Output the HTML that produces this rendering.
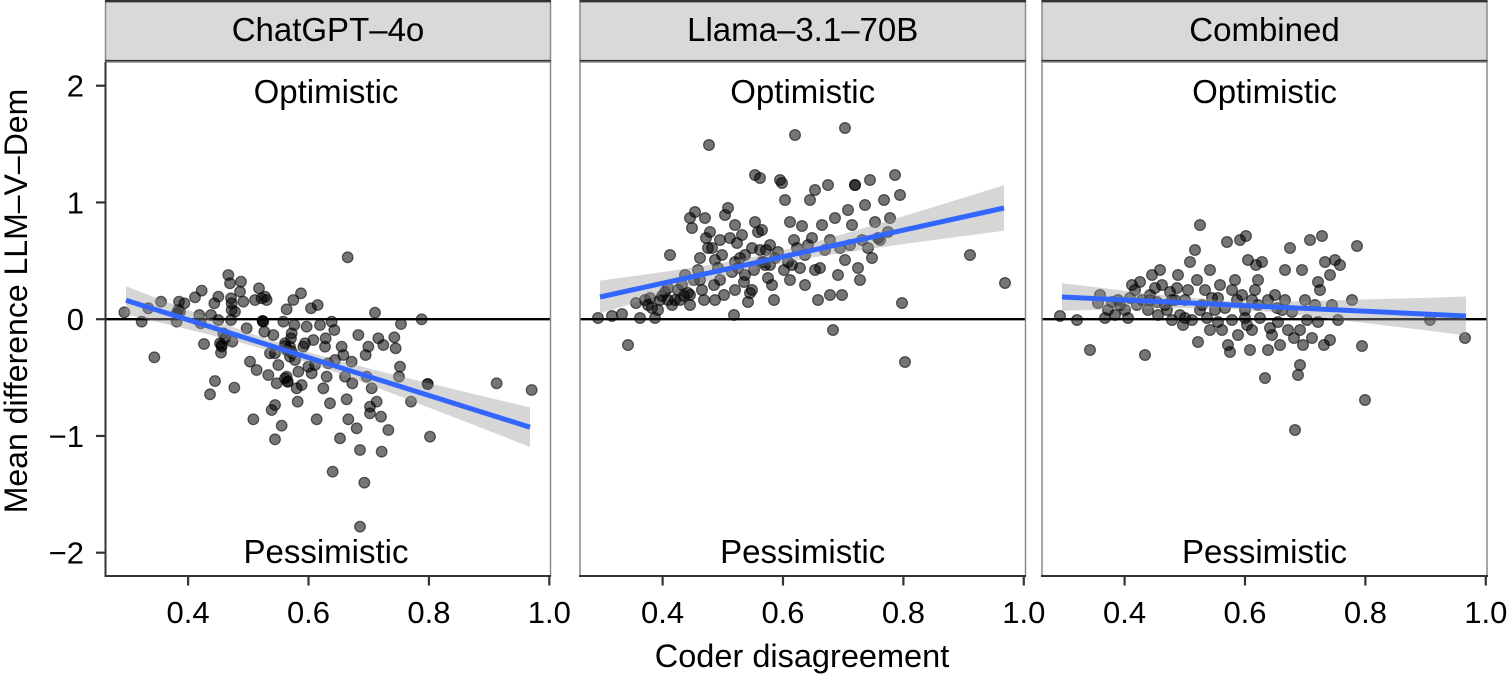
<!DOCTYPE html>
<html>
<head>
<meta charset="utf-8">
<style>
  html, body { margin: 0; padding: 0; background: #ffffff; }
  svg { display: block; }
  text { font-family: "Liberation Sans", Arial, sans-serif; fill: #000; }
  .pt { fill: #000; fill-opacity: 0.54; stroke: #000; stroke-opacity: 0.58; stroke-width: 1.2; }
  .pt3 { fill: #000; fill-opacity: 0.54; stroke: #000; stroke-opacity: 0.58; stroke-width: 3.6; }
  .rib { fill: #999999; fill-opacity: 0.4; stroke: none; }
  .fit { stroke: #3366FF; stroke-width: 5; fill: none; stroke-linecap: butt; }
  .zero { stroke: #000; stroke-width: 2.4; }
  .tick { stroke: #333; stroke-width: 2.2; }
</style>
</head>
<body>
<svg width="1508" height="675" viewBox="0 0 1508 675" xmlns="http://www.w3.org/2000/svg">
  <rect x="0" y="0" width="1508" height="675" fill="#fff"/>

  <!-- ===== Strips ===== -->
  <g>
    <rect x="105.5" y="1.2" width="445" height="60.5" fill="#D9D9D9" stroke="#8a8a8a" stroke-width="1.5"/>
    <rect x="580" y="1.2" width="445.5" height="60.5" fill="#D9D9D9" stroke="#8a8a8a" stroke-width="1.5"/>
    <rect x="1042" y="1.2" width="445" height="60.5" fill="#D9D9D9" stroke="#8a8a8a" stroke-width="1.5"/>
    <line x1="105" y1="1.2" x2="551" y2="1.2" stroke="#333" stroke-width="2.4"/>
    <line x1="579.5" y1="1.2" x2="1026" y2="1.2" stroke="#333" stroke-width="2.4"/>
    <line x1="1041.5" y1="1.2" x2="1487.5" y2="1.2" stroke="#333" stroke-width="2.4"/>
    <line x1="105" y1="61" x2="551" y2="61" stroke="#333" stroke-width="2.2"/>
    <line x1="579.5" y1="61" x2="1026" y2="61" stroke="#333" stroke-width="2.2"/>
    <line x1="1041.5" y1="61" x2="1487.5" y2="61" stroke="#333" stroke-width="2.2"/>
    <text x="328" y="41" font-size="33" text-anchor="middle">ChatGPT–4o</text>
    <text x="802.7" y="41" font-size="33" text-anchor="middle">Llama–3.1–70B</text>
    <text x="1264.5" y="41" font-size="33" text-anchor="middle">Combined</text>
  </g>

  <!-- ===== Panel 1 ===== -->
  <g>
    <line class="zero" x1="105.5" y1="319.2" x2="550.5" y2="319.2"/>
    <g transform="translate(105,250) scale(0.33333)">
      <circle class="pt3" r="16" cx="58" cy="187"/><circle class="pt3" r="16" cx="110" cy="215"/><circle class="pt3" r="16" cx="130" cy="175"/><circle class="pt3" r="16" cx="148" cy="322"/><circle class="pt3" r="16" cx="168" cy="155"/><circle class="pt3" r="16" cx="215" cy="215"/><circle class="pt3" r="16" cx="222" cy="155"/><circle class="pt3" r="16" cx="225" cy="185"/><circle class="pt3" r="16" cx="238" cy="160"/><circle class="pt3" r="16" cx="270" cy="142"/><circle class="pt3" r="16" cx="283" cy="195"/><circle class="pt3" r="16" cx="290" cy="122"/><circle class="pt3" r="16" cx="287" cy="220"/><circle class="pt3" r="16" cx="297" cy="282"/><circle class="pt3" r="16" cx="318" cy="195"/><circle class="pt3" r="16" cx="315" cy="433"/><circle class="pt3" r="16" cx="330" cy="393"/><circle class="pt3" r="16" cx="328" cy="160"/><circle class="pt3" r="16" cx="340" cy="140"/><circle class="pt3" r="16" cx="340" cy="210"/><circle class="pt3" r="16" cx="345" cy="280"/><circle class="pt3" r="16" cx="350" cy="290"/><circle class="pt3" r="16" cx="348" cy="308"/><circle class="pt3" r="16" cx="355" cy="250"/><circle class="pt3" r="16" cx="360" cy="265"/><circle class="pt3" r="16" cx="370" cy="75"/><circle class="pt3" r="16" cx="375" cy="100"/><circle class="pt3" r="16" cx="378" cy="145"/><circle class="pt3" r="16" cx="378" cy="210"/><circle class="pt3" r="16" cx="380" cy="180"/><circle class="pt3" r="16" cx="382" cy="275"/><circle class="pt3" r="16" cx="388" cy="413"/><circle class="pt3" r="16" cx="390" cy="185"/><circle class="pt3" r="16" cx="405" cy="125"/><circle class="pt3" r="16" cx="408" cy="95"/><circle class="pt3" r="16" cx="415" cy="155"/><circle class="pt3" r="16" cx="425" cy="235"/><circle class="pt3" r="16" cx="435" cy="335"/><circle class="pt3" r="16" cx="445" cy="508"/><circle class="pt3" r="16" cx="450" cy="150"/><circle class="pt3" r="16" cx="455" cy="360"/><circle class="pt3" r="16" cx="462" cy="115"/><circle class="pt3" r="16" cx="470" cy="145"/><circle class="pt3" r="16" cx="475" cy="215"/><circle class="pt3" r="16" cx="478" cy="245"/><circle class="pt3" r="16" cx="480" cy="140"/><circle class="pt3" r="16" cx="485" cy="150"/><circle class="pt3" r="16" cx="490" cy="375"/><circle class="pt3" r="16" cx="495" cy="310"/><circle class="pt3" r="16" cx="500" cy="480"/><circle class="pt3" r="16" cx="505" cy="255"/><circle class="pt3" r="16" cx="510" cy="310"/><circle class="pt3" r="16" cx="510" cy="568"/><circle class="pt3" r="16" cx="510" cy="465"/><circle class="pt3" r="16" cx="515" cy="400"/><circle class="pt3" r="16" cx="520" cy="345"/><circle class="pt3" r="16" cx="530" cy="527"/><circle class="pt3" r="16" cx="535" cy="215"/><circle class="pt3" r="16" cx="540" cy="280"/><circle class="pt3" r="16" cx="545" cy="178"/><circle class="pt3" r="16" cx="545" cy="380"/><circle class="pt3" r="16" cx="548" cy="395"/><circle class="pt3" r="16" cx="550" cy="300"/><circle class="pt3" r="16" cx="555" cy="290"/><circle class="pt3" r="16" cx="558" cy="265"/><circle class="pt3" r="16" cx="560" cy="250"/><circle class="pt3" r="16" cx="562" cy="310"/><circle class="pt3" r="16" cx="565" cy="150"/><circle class="pt3" r="16" cx="568" cy="225"/><circle class="pt3" r="16" cx="570" cy="330"/><circle class="pt3" r="16" cx="575" cy="415"/><circle class="pt3" r="16" cx="578" cy="455"/><circle class="pt3" r="16" cx="580" cy="365"/><circle class="pt3" r="16" cx="588" cy="130"/><circle class="pt3" r="16" cx="590" cy="405"/><circle class="pt3" r="16" cx="595" cy="290"/><circle class="pt3" r="16" cx="600" cy="280"/><circle class="pt3" r="16" cx="605" cy="230"/><circle class="pt3" r="16" cx="610" cy="350"/><circle class="pt3" r="16" cx="618" cy="175"/><circle class="pt3" r="16" cx="620" cy="370"/><circle class="pt3" r="16" cx="625" cy="270"/><circle class="pt3" r="16" cx="630" cy="345"/><circle class="pt3" r="16" cx="635" cy="508"/><circle class="pt3" r="16" cx="638" cy="165"/><circle class="pt3" r="16" cx="645" cy="225"/><circle class="pt3" r="16" cx="655" cy="415"/><circle class="pt3" r="16" cx="660" cy="290"/><circle class="pt3" r="16" cx="662" cy="265"/><circle class="pt3" r="16" cx="665" cy="380"/><circle class="pt3" r="16" cx="670" cy="340"/><circle class="pt3" r="16" cx="675" cy="460"/><circle class="pt3" r="16" cx="680" cy="215"/><circle class="pt3" r="16" cx="683" cy="665"/><circle class="pt3" r="16" cx="688" cy="240"/><circle class="pt3" r="16" cx="690" cy="330"/><circle class="pt3" r="16" cx="705" cy="565"/><circle class="pt3" r="16" cx="710" cy="290"/><circle class="pt3" r="16" cx="715" cy="315"/><circle class="pt3" r="16" cx="720" cy="380"/><circle class="pt3" r="16" cx="725" cy="448"/><circle class="pt3" r="16" cx="728" cy="22"/><circle class="pt3" r="16" cx="730" cy="508"/><circle class="pt3" r="16" cx="740" cy="335"/><circle class="pt3" r="16" cx="742" cy="400"/><circle class="pt3" r="16" cx="755" cy="535"/><circle class="pt3" r="16" cx="760" cy="255"/><circle class="pt3" r="16" cx="765" cy="600"/><circle class="pt3" r="16" cx="778" cy="698"/><circle class="pt3" r="16" cx="782" cy="315"/><circle class="pt3" r="16" cx="785" cy="380"/><circle class="pt3" r="16" cx="790" cy="290"/><circle class="pt3" r="16" cx="795" cy="470"/><circle class="pt3" r="16" cx="795" cy="490"/><circle class="pt3" r="16" cx="800" cy="415"/><circle class="pt3" r="16" cx="810" cy="188"/><circle class="pt3" r="16" cx="815" cy="455"/><circle class="pt3" r="16" cx="820" cy="265"/><circle class="pt3" r="16" cx="828" cy="500"/><circle class="pt3" r="16" cx="830" cy="605"/><circle class="pt3" r="16" cx="835" cy="285"/><circle class="pt3" r="16" cx="850" cy="540"/><circle class="pt3" r="16" cx="868" cy="262"/><circle class="pt3" r="16" cx="872" cy="295"/><circle class="pt3" r="16" cx="882" cy="380"/><circle class="pt3" r="16" cx="885" cy="350"/><circle class="pt3" r="16" cx="888" cy="222"/><circle class="pt3" r="16" cx="918" cy="455"/><circle class="pt3" r="16" cx="950" cy="208"/><circle class="pt3" r="16" cx="968" cy="402"/><circle class="pt3" r="16" cx="968" cy="402"/><circle class="pt3" r="16" cx="975" cy="560"/><circle class="pt3" r="16" cx="1175" cy="400"/><circle class="pt3" r="16" cx="1280" cy="420"/><circle class="pt3" r="16" cx="765" cy="830"/><circle class="pt3" r="16" cx="473" cy="213"/><circle class="pt3" r="16" cx="473" cy="213"/><circle class="pt3" r="16" cx="540" cy="288"/><circle class="pt3" r="16" cx="545" cy="300"/><circle class="pt3" r="16" cx="555" cy="320"/><circle class="pt3" r="16" cx="560" cy="305"/><circle class="pt3" r="16" cx="548" cy="395"/><circle class="pt3" r="16" cx="540" cy="385"/><circle class="pt3" r="16" cx="350" cy="285"/><circle class="pt3" r="16" cx="215" cy="190"/><circle class="pt3" r="16" cx="220" cy="180"/><circle class="pt3" r="16" cx="380" cy="160"/>
    </g>
    <polygon class="rib" points="126,286.2 170,303.2 210,318.5 250,333.2 291,347.1 330,358.4 370,368.8 410,378.7 450,388.3 490,397.9 530,407.4 530,447.0 490,431.3 450,415.7 410,400.2 370,385.0 330,370.2 291,357.1 250,345.2 210,334.9 170,325.0 126,314.4"/>
    <line class="fit" x1="126" y1="300.3" x2="530" y2="427.2"/>
  </g>

  <!-- ===== Panel 2 ===== -->
  <g>
    <line class="zero" x1="580" y1="319.2" x2="1025.5" y2="319.2"/>
    <g>
      <circle class="pt" r="5.4" cx="598" cy="318"/><circle class="pt" r="5.4" cx="612" cy="316"/><circle class="pt" r="5.4" cx="622" cy="314"/><circle class="pt" r="5.4" cx="628" cy="345"/><circle class="pt" r="5.4" cx="636" cy="303"/><circle class="pt" r="5.4" cx="645" cy="300"/><circle class="pt" r="5.4" cx="648" cy="305"/><circle class="pt" r="5.4" cx="650" cy="298"/><circle class="pt" r="5.4" cx="652" cy="308"/><circle class="pt" r="5.4" cx="655" cy="318"/><circle class="pt" r="5.4" cx="658" cy="310"/><circle class="pt" r="5.4" cx="660" cy="300"/><circle class="pt" r="5.4" cx="662" cy="296"/><circle class="pt" r="5.4" cx="665" cy="292"/><circle class="pt" r="5.4" cx="668" cy="288"/><circle class="pt" r="5.4" cx="670" cy="255"/><circle class="pt" r="5.4" cx="672" cy="305"/><circle class="pt" r="5.4" cx="675" cy="300"/><circle class="pt" r="5.4" cx="678" cy="290"/><circle class="pt" r="5.4" cx="680" cy="300"/><circle class="pt" r="5.4" cx="682" cy="285"/><circle class="pt" r="5.4" cx="684" cy="296"/><circle class="pt" r="5.4" cx="685" cy="275"/><circle class="pt" r="5.4" cx="688" cy="293"/><circle class="pt" r="5.4" cx="690" cy="218"/><circle class="pt" r="5.4" cx="692" cy="228"/><circle class="pt" r="5.4" cx="694" cy="280"/><circle class="pt" r="5.4" cx="695" cy="212"/><circle class="pt" r="5.4" cx="698" cy="270"/><circle class="pt" r="5.4" cx="700" cy="258"/><circle class="pt" r="5.4" cx="702" cy="290"/><circle class="pt" r="5.4" cx="704" cy="300"/><circle class="pt" r="5.4" cx="705" cy="218"/><circle class="pt" r="5.4" cx="706" cy="238"/><circle class="pt" r="5.4" cx="708" cy="248"/><circle class="pt" r="5.4" cx="709" cy="145"/><circle class="pt" r="5.4" cx="710" cy="232"/><circle class="pt" r="5.4" cx="712" cy="248"/><circle class="pt" r="5.4" cx="714" cy="285"/><circle class="pt" r="5.4" cx="715" cy="260"/><circle class="pt" r="5.4" cx="718" cy="268"/><circle class="pt" r="5.4" cx="720" cy="280"/><circle class="pt" r="5.4" cx="722" cy="255"/><circle class="pt" r="5.4" cx="724" cy="295"/><circle class="pt" r="5.4" cx="725" cy="215"/><circle class="pt" r="5.4" cx="728" cy="208"/><circle class="pt" r="5.4" cx="730" cy="238"/><circle class="pt" r="5.4" cx="732" cy="272"/><circle class="pt" r="5.4" cx="734" cy="315"/><circle class="pt" r="5.4" cx="735" cy="290"/><circle class="pt" r="5.4" cx="737" cy="243"/><circle class="pt" r="5.4" cx="738" cy="268"/><circle class="pt" r="5.4" cx="740" cy="258"/><circle class="pt" r="5.4" cx="742" cy="235"/><circle class="pt" r="5.4" cx="744" cy="282"/><circle class="pt" r="5.4" cx="745" cy="255"/><circle class="pt" r="5.4" cx="748" cy="302"/><circle class="pt" r="5.4" cx="750" cy="293"/><circle class="pt" r="5.4" cx="752" cy="248"/><circle class="pt" r="5.4" cx="754" cy="270"/><circle class="pt" r="5.4" cx="755" cy="222"/><circle class="pt" r="5.4" cx="755" cy="175"/><circle class="pt" r="5.4" cx="758" cy="232"/><circle class="pt" r="5.4" cx="760" cy="178"/><circle class="pt" r="5.4" cx="762" cy="230"/><circle class="pt" r="5.4" cx="764" cy="262"/><circle class="pt" r="5.4" cx="765" cy="265"/><circle class="pt" r="5.4" cx="766" cy="250"/><circle class="pt" r="5.4" cx="768" cy="278"/><circle class="pt" r="5.4" cx="770" cy="245"/><circle class="pt" r="5.4" cx="772" cy="285"/><circle class="pt" r="5.4" cx="774" cy="300"/><circle class="pt" r="5.4" cx="775" cy="258"/><circle class="pt" r="5.4" cx="778" cy="252"/><circle class="pt" r="5.4" cx="780" cy="180"/><circle class="pt" r="5.4" cx="782" cy="183"/><circle class="pt" r="5.4" cx="784" cy="270"/><circle class="pt" r="5.4" cx="785" cy="200"/><circle class="pt" r="5.4" cx="788" cy="262"/><circle class="pt" r="5.4" cx="790" cy="222"/><circle class="pt" r="5.4" cx="792" cy="265"/><circle class="pt" r="5.4" cx="794" cy="240"/><circle class="pt" r="5.4" cx="795" cy="135"/><circle class="pt" r="5.4" cx="797" cy="248"/><circle class="pt" r="5.4" cx="800" cy="268"/><circle class="pt" r="5.4" cx="802" cy="226"/><circle class="pt" r="5.4" cx="805" cy="285"/><circle class="pt" r="5.4" cx="808" cy="245"/><circle class="pt" r="5.4" cx="810" cy="200"/><circle class="pt" r="5.4" cx="812" cy="238"/><circle class="pt" r="5.4" cx="815" cy="190"/><circle class="pt" r="5.4" cx="818" cy="300"/><circle class="pt" r="5.4" cx="820" cy="268"/><circle class="pt" r="5.4" cx="822" cy="225"/><circle class="pt" r="5.4" cx="825" cy="250"/><circle class="pt" r="5.4" cx="828" cy="185"/><circle class="pt" r="5.4" cx="830" cy="295"/><circle class="pt" r="5.4" cx="833" cy="330"/><circle class="pt" r="5.4" cx="835" cy="218"/><circle class="pt" r="5.4" cx="838" cy="275"/><circle class="pt" r="5.4" cx="840" cy="248"/><circle class="pt" r="5.4" cx="842" cy="295"/><circle class="pt" r="5.4" cx="845" cy="128"/><circle class="pt" r="5.4" cx="848" cy="210"/><circle class="pt" r="5.4" cx="850" cy="245"/><circle class="pt" r="5.4" cx="852" cy="225"/><circle class="pt" r="5.4" cx="855" cy="185"/><circle class="pt" r="5.4" cx="855" cy="185"/><circle class="pt" r="5.4" cx="858" cy="268"/><circle class="pt" r="5.4" cx="860" cy="280"/><circle class="pt" r="5.4" cx="862" cy="240"/><circle class="pt" r="5.4" cx="865" cy="205"/><circle class="pt" r="5.4" cx="868" cy="248"/><circle class="pt" r="5.4" cx="870" cy="180"/><circle class="pt" r="5.4" cx="872" cy="258"/><circle class="pt" r="5.4" cx="875" cy="222"/><circle class="pt" r="5.4" cx="878" cy="238"/><circle class="pt" r="5.4" cx="880" cy="240"/><circle class="pt" r="5.4" cx="884" cy="200"/><circle class="pt" r="5.4" cx="888" cy="232"/><circle class="pt" r="5.4" cx="890" cy="218"/><circle class="pt" r="5.4" cx="895" cy="175"/><circle class="pt" r="5.4" cx="900" cy="195"/><circle class="pt" r="5.4" cx="902" cy="303"/><circle class="pt" r="5.4" cx="905" cy="362"/><circle class="pt" r="5.4" cx="970" cy="255"/><circle class="pt" r="5.4" cx="1005" cy="283"/><circle class="pt" r="5.4" cx="762" cy="262"/><circle class="pt" r="5.4" cx="735" cy="262"/><circle class="pt" r="5.4" cx="690" cy="295"/>
      <circle class="pt" r="5.4" cx="640" cy="318"/><circle class="pt" r="5.4" cx="668" cy="300"/><circle class="pt" r="5.4" cx="690" cy="305"/><circle class="pt" r="5.4" cx="700" cy="280"/><circle class="pt" r="5.4" cx="715" cy="300"/><circle class="pt" r="5.4" cx="720" cy="240"/><circle class="pt" r="5.4" cx="735" cy="225"/><circle class="pt" r="5.4" cx="745" cy="275"/><circle class="pt" r="5.4" cx="752" cy="290"/><circle class="pt" r="5.4" cx="760" cy="250"/><circle class="pt" r="5.4" cx="770" cy="265"/><circle class="pt" r="5.4" cx="790" cy="280"/><circle class="pt" r="5.4" cx="805" cy="255"/><circle class="pt" r="5.4" cx="815" cy="270"/><circle class="pt" r="5.4" cx="830" cy="240"/><circle class="pt" r="5.4" cx="845" cy="260"/>
    </g>
    <polygon class="rib" points="600,280.6 640,275.2 680,269.5 720,263.3 766,254.4 810,243.5 850,232.1 890,220.2 930,208.1 970,195.8 1004,185.3 1004,230.7 970,235.2 930,240.5 890,246.0 850,251.7 810,257.9 766,266.4 720,277.9 680,289.3 640,301.3 600,313.4"/>
    <line class="fit" x1="600" y1="297" x2="1004" y2="208"/>
  </g>

  <!-- ===== Panel 3 ===== -->
  <g>
    <line class="zero" x1="1042" y1="319.2" x2="1487" y2="319.2"/>
    <g>
      <circle class="pt" r="5.4" cx="1060" cy="316"/><circle class="pt" r="5.4" cx="1077" cy="320"/><circle class="pt" r="5.4" cx="1090" cy="350"/><circle class="pt" r="5.4" cx="1098" cy="303"/><circle class="pt" r="5.4" cx="1108" cy="310"/><circle class="pt" r="5.4" cx="1112" cy="302"/><circle class="pt" r="5.4" cx="1115" cy="315"/><circle class="pt" r="5.4" cx="1118" cy="300"/><circle class="pt" r="5.4" cx="1120" cy="305"/><circle class="pt" r="5.4" cx="1125" cy="310"/><circle class="pt" r="5.4" cx="1130" cy="298"/><circle class="pt" r="5.4" cx="1135" cy="290"/><circle class="pt" r="5.4" cx="1137" cy="305"/><circle class="pt" r="5.4" cx="1140" cy="282"/><circle class="pt" r="5.4" cx="1142" cy="300"/><circle class="pt" r="5.4" cx="1145" cy="355"/><circle class="pt" r="5.4" cx="1148" cy="310"/><circle class="pt" r="5.4" cx="1150" cy="295"/><circle class="pt" r="5.4" cx="1152" cy="275"/><circle class="pt" r="5.4" cx="1155" cy="288"/><circle class="pt" r="5.4" cx="1157" cy="302"/><circle class="pt" r="5.4" cx="1160" cy="270"/><circle class="pt" r="5.4" cx="1162" cy="285"/><circle class="pt" r="5.4" cx="1165" cy="305"/><circle class="pt" r="5.4" cx="1167" cy="310"/><circle class="pt" r="5.4" cx="1170" cy="292"/><circle class="pt" r="5.4" cx="1172" cy="320"/><circle class="pt" r="5.4" cx="1175" cy="300"/><circle class="pt" r="5.4" cx="1177" cy="288"/><circle class="pt" r="5.4" cx="1180" cy="315"/><circle class="pt" r="5.4" cx="1183" cy="325"/><circle class="pt" r="5.4" cx="1185" cy="300"/><circle class="pt" r="5.4" cx="1188" cy="290"/><circle class="pt" r="5.4" cx="1190" cy="262"/><circle class="pt" r="5.4" cx="1192" cy="320"/><circle class="pt" r="5.4" cx="1195" cy="250"/><circle class="pt" r="5.4" cx="1197" cy="280"/><circle class="pt" r="5.4" cx="1198" cy="342"/><circle class="pt" r="5.4" cx="1200" cy="225"/><circle class="pt" r="5.4" cx="1202" cy="305"/><circle class="pt" r="5.4" cx="1205" cy="290"/><circle class="pt" r="5.4" cx="1207" cy="318"/><circle class="pt" r="5.4" cx="1210" cy="270"/><circle class="pt" r="5.4" cx="1212" cy="298"/><circle class="pt" r="5.4" cx="1215" cy="310"/><circle class="pt" r="5.4" cx="1218" cy="322"/><circle class="pt" r="5.4" cx="1220" cy="285"/><circle class="pt" r="5.4" cx="1222" cy="330"/><circle class="pt" r="5.4" cx="1225" cy="308"/><circle class="pt" r="5.4" cx="1227" cy="242"/><circle class="pt" r="5.4" cx="1228" cy="345"/><circle class="pt" r="5.4" cx="1230" cy="352"/><circle class="pt" r="5.4" cx="1232" cy="320"/><circle class="pt" r="5.4" cx="1235" cy="280"/><circle class="pt" r="5.4" cx="1237" cy="300"/><circle class="pt" r="5.4" cx="1240" cy="240"/><circle class="pt" r="5.4" cx="1242" cy="295"/><circle class="pt" r="5.4" cx="1245" cy="318"/><circle class="pt" r="5.4" cx="1246" cy="236"/><circle class="pt" r="5.4" cx="1247" cy="325"/><circle class="pt" r="5.4" cx="1248" cy="260"/><circle class="pt" r="5.4" cx="1250" cy="350"/><circle class="pt" r="5.4" cx="1252" cy="300"/><circle class="pt" r="5.4" cx="1255" cy="290"/><circle class="pt" r="5.4" cx="1256" cy="265"/><circle class="pt" r="5.4" cx="1258" cy="305"/><circle class="pt" r="5.4" cx="1260" cy="318"/><circle class="pt" r="5.4" cx="1262" cy="262"/><circle class="pt" r="5.4" cx="1265" cy="378"/><circle class="pt" r="5.4" cx="1268" cy="350"/><circle class="pt" r="5.4" cx="1270" cy="328"/><circle class="pt" r="5.4" cx="1272" cy="335"/><circle class="pt" r="5.4" cx="1275" cy="295"/><circle class="pt" r="5.4" cx="1277" cy="308"/><circle class="pt" r="5.4" cx="1280" cy="345"/><circle class="pt" r="5.4" cx="1282" cy="310"/><circle class="pt" r="5.4" cx="1285" cy="270"/><circle class="pt" r="5.4" cx="1288" cy="330"/><circle class="pt" r="5.4" cx="1290" cy="248"/><circle class="pt" r="5.4" cx="1292" cy="312"/><circle class="pt" r="5.4" cx="1294" cy="338"/><circle class="pt" r="5.4" cx="1295" cy="430"/><circle class="pt" r="5.4" cx="1298" cy="375"/><circle class="pt" r="5.4" cx="1300" cy="365"/><circle class="pt" r="5.4" cx="1302" cy="270"/><circle class="pt" r="5.4" cx="1303" cy="345"/><circle class="pt" r="5.4" cx="1305" cy="300"/><circle class="pt" r="5.4" cx="1307" cy="320"/><circle class="pt" r="5.4" cx="1310" cy="240"/><circle class="pt" r="5.4" cx="1312" cy="338"/><circle class="pt" r="5.4" cx="1315" cy="305"/><circle class="pt" r="5.4" cx="1318" cy="282"/><circle class="pt" r="5.4" cx="1320" cy="290"/><circle class="pt" r="5.4" cx="1322" cy="236"/><circle class="pt" r="5.4" cx="1324" cy="345"/><circle class="pt" r="5.4" cx="1325" cy="262"/><circle class="pt" r="5.4" cx="1330" cy="275"/><circle class="pt" r="5.4" cx="1332" cy="305"/><circle class="pt" r="5.4" cx="1335" cy="260"/><circle class="pt" r="5.4" cx="1338" cy="320"/><circle class="pt" r="5.4" cx="1340" cy="265"/><circle class="pt" r="5.4" cx="1352" cy="300"/><circle class="pt" r="5.4" cx="1357" cy="246"/><circle class="pt" r="5.4" cx="1362" cy="346"/><circle class="pt" r="5.4" cx="1365" cy="400"/><circle class="pt" r="5.4" cx="1430" cy="320"/><circle class="pt" r="5.4" cx="1465" cy="338"/><circle class="pt" r="5.4" cx="1172" cy="300"/><circle class="pt" r="5.4" cx="1245" cy="310"/><circle class="pt" r="5.4" cx="1150" cy="300"/>
      <circle class="pt" r="5.4" cx="1100" cy="295"/><circle class="pt" r="5.4" cx="1105" cy="318"/><circle class="pt" r="5.4" cx="1128" cy="318"/><circle class="pt" r="5.4" cx="1132" cy="285"/><circle class="pt" r="5.4" cx="1158" cy="315"/><circle class="pt" r="5.4" cx="1178" cy="275"/><circle class="pt" r="5.4" cx="1185" cy="318"/><circle class="pt" r="5.4" cx="1200" cy="310"/><circle class="pt" r="5.4" cx="1210" cy="330"/><circle class="pt" r="5.4" cx="1218" cy="298"/><circle class="pt" r="5.4" cx="1232" cy="290"/><circle class="pt" r="5.4" cx="1238" cy="335"/><circle class="pt" r="5.4" cx="1252" cy="330"/><circle class="pt" r="5.4" cx="1258" cy="280"/><circle class="pt" r="5.4" cx="1268" cy="300"/><circle class="pt" r="5.4" cx="1278" cy="322"/><circle class="pt" r="5.4" cx="1285" cy="300"/><circle class="pt" r="5.4" cx="1300" cy="330"/><circle class="pt" r="5.4" cx="1318" cy="322"/><circle class="pt" r="5.4" cx="1330" cy="340"/>
    </g>
    <polygon class="rib" points="1062,283.1 1100,287.8 1140,292.6 1180,297.0 1228,300.8 1270,301.6 1310,301.0 1350,299.9 1390,298.8 1430,297.7 1466,296.5 1466,335.5 1430,330.9 1390,326.0 1350,321.1 1310,316.4 1270,312.0 1228,308.8 1180,308.0 1140,308.8 1100,309.8 1062,310.9"/>
    <line class="fit" x1="1062" y1="297" x2="1466" y2="316"/>
  </g>

  <!-- ===== Panel borders & axes ===== -->
  <rect x="105.5" y="62" width="445" height="514" fill="none" stroke="#8a8a8a" stroke-width="1.5"/>
  <rect x="580" y="62" width="445.5" height="514" fill="none" stroke="#8a8a8a" stroke-width="1.5"/>
  <rect x="1042" y="62" width="445" height="514" fill="none" stroke="#8a8a8a" stroke-width="1.5"/>
  <line x1="105.5" y1="62" x2="105.5" y2="577" stroke="#333" stroke-width="2"/>
  <line x1="104.5" y1="576" x2="551" y2="576" stroke="#333" stroke-width="2"/>
  <line x1="579" y1="576" x2="1026" y2="576" stroke="#333" stroke-width="2"/>
  <line x1="1041" y1="576" x2="1488" y2="576" stroke="#333" stroke-width="2"/>

  <!-- annotations -->
  <g font-size="33" text-anchor="middle">
    <text x="326" y="103">Optimistic</text>
    <text x="802.7" y="103">Optimistic</text>
    <text x="1264.5" y="103">Optimistic</text>
    <text x="326" y="563">Pessimistic</text>
    <text x="802.7" y="563">Pessimistic</text>
    <text x="1264.5" y="563">Pessimistic</text>
  </g>

  <!-- y ticks -->
  <g>
    <line class="tick" x1="96" y1="85.7" x2="105.5" y2="85.7"/>
    <line class="tick" x1="96" y1="202.45" x2="105.5" y2="202.45"/>
    <line class="tick" x1="96" y1="319.2" x2="105.5" y2="319.2"/>
    <line class="tick" x1="96" y1="435.95" x2="105.5" y2="435.95"/>
    <line class="tick" x1="96" y1="552.7" x2="105.5" y2="552.7"/>
  </g>
  <g font-size="31" text-anchor="end">
    <text x="84" y="96.7">2</text>
    <text x="84" y="213.5">1</text>
    <text x="84" y="330.2">0</text>
    <text x="84" y="447">−1</text>
    <text x="84" y="563.7">−2</text>
  </g>

  <!-- x ticks -->
  <g>
    <line class="tick" x1="188.1" y1="576" x2="188.1" y2="585.5"/>
    <line class="tick" x1="308.5" y1="576" x2="308.5" y2="585.5"/>
    <line class="tick" x1="428.9" y1="576" x2="428.9" y2="585.5"/>
    <line class="tick" x1="549.3" y1="576" x2="549.3" y2="585.5"/>
    <line class="tick" x1="662.6" y1="576" x2="662.6" y2="585.5"/>
    <line class="tick" x1="783" y1="576" x2="783" y2="585.5"/>
    <line class="tick" x1="903.4" y1="576" x2="903.4" y2="585.5"/>
    <line class="tick" x1="1023.8" y1="576" x2="1023.8" y2="585.5"/>
    <line class="tick" x1="1124.6" y1="576" x2="1124.6" y2="585.5"/>
    <line class="tick" x1="1245" y1="576" x2="1245" y2="585.5"/>
    <line class="tick" x1="1365.4" y1="576" x2="1365.4" y2="585.5"/>
    <line class="tick" x1="1485.8" y1="576" x2="1485.8" y2="585.5"/>
  </g>
  <g font-size="31" text-anchor="middle">
    <text x="188.1" y="623">0.4</text>
    <text x="308.5" y="623">0.6</text>
    <text x="428.9" y="623">0.8</text>
    <text x="549.3" y="623">1.0</text>
    <text x="662.6" y="623">0.4</text>
    <text x="783" y="623">0.6</text>
    <text x="903.4" y="623">0.8</text>
    <text x="1023.8" y="623">1.0</text>
    <text x="1124.6" y="623">0.4</text>
    <text x="1245" y="623">0.6</text>
    <text x="1365.4" y="623">0.8</text>
    <text x="1485.8" y="623">1.0</text>
  </g>

  <!-- axis titles -->
  <text x="802" y="667" font-size="32.5" text-anchor="middle">Coder disagreement</text>
  <text transform="translate(27,301) rotate(-90)" font-size="32" text-anchor="middle">Mean difference LLM–V–Dem</text>
</svg>
</body>
</html>
